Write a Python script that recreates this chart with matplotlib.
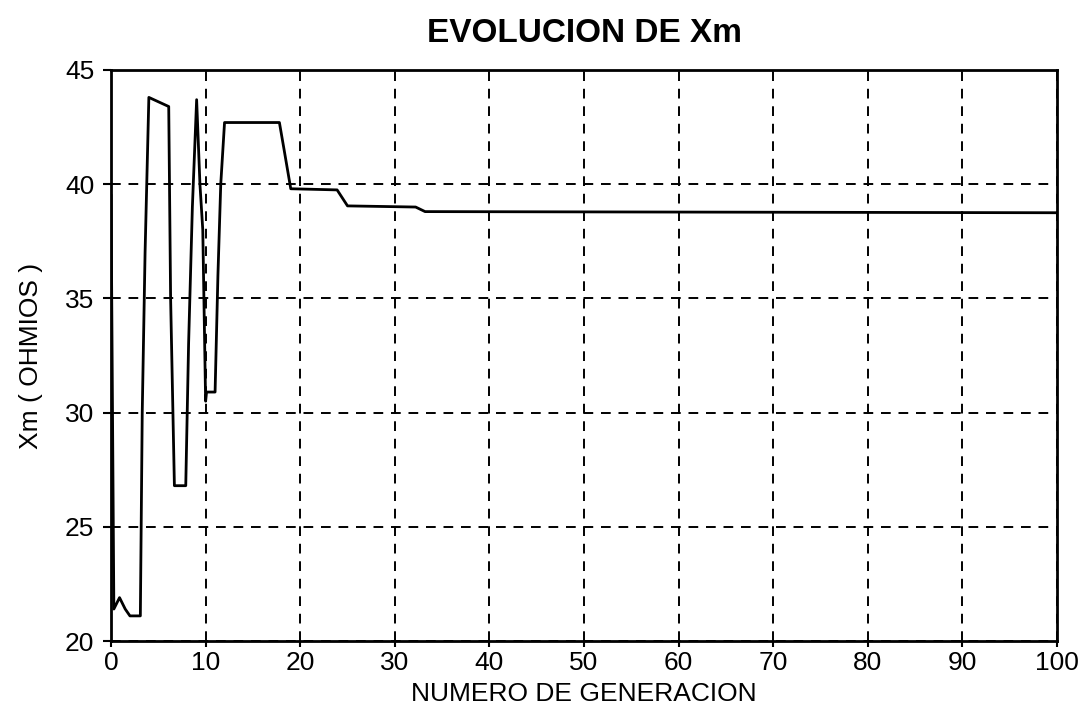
import numpy as np
import matplotlib
matplotlib.use('Agg')
import matplotlib.pyplot as plt

plt.rcParams['font.family'] = ['Liberation Sans', 'DejaVu Sans']

# generation number vs Xm (ohms)
gen = [0, 0.3, 0.9, 1.5, 2.0, 3.1, 3.3, 3.6, 4.0, 6.1, 6.3, 6.7, 7.9, 8.2,
       8.6, 9.05, 9.4, 9.7, 10.0, 10.1, 11.0, 11.3, 11.6, 12.0, 17.8, 18.3,
       19.0, 23.9, 25.0, 32.2, 33.2, 100]
xm = [39.5, 21.4, 21.9, 21.4, 21.1, 21.1, 30.0, 37.0, 43.8, 43.4, 35.0, 26.8,
      26.8, 33.0, 39.0, 43.7, 40.0, 38.0, 30.5, 30.9, 30.9, 36.0, 40.0, 42.7,
      42.7, 41.5, 39.8, 39.75, 39.05, 39.0, 38.8, 38.75]

xticks = [0, 10, 20, 30, 40, 50, 60, 70, 80, 90, 100]
yticks = [20, 25, 30, 35, 40, 45]

fig = plt.figure(figsize=(10.81, 7.12), dpi=100)
ax = fig.add_axes([0.1027, 0.0997, 0.8751, 0.802])

ax.plot(gen, xm, color='black', lw=2)

ax.set_xlim(0, 100)
ax.set_ylim(20, 45)
ax.set_xticks(xticks)
ax.set_yticks(yticks)
ax.tick_params(direction='out', length=6, width=1.5, labelsize=19)
ax.tick_params(axis='x', length=4, pad=3)
ax.tick_params(axis='y', pad=6)
ax.grid(True, color='black', linestyle=(0, (5, 4)), linewidth=1.4)
for s in ax.spines.values():
    s.set_linewidth(2)

ax.set_title('EVOLUCION DE Xm', fontsize=24, fontweight='bold', pad=20)
ax.set_xlabel('NUMERO DE GENERACION', fontsize=19, labelpad=5)
ax.set_ylabel('Xm ( OHMIOS )', fontsize=19, labelpad=16)

fig.savefig('out.png', dpi=100)
